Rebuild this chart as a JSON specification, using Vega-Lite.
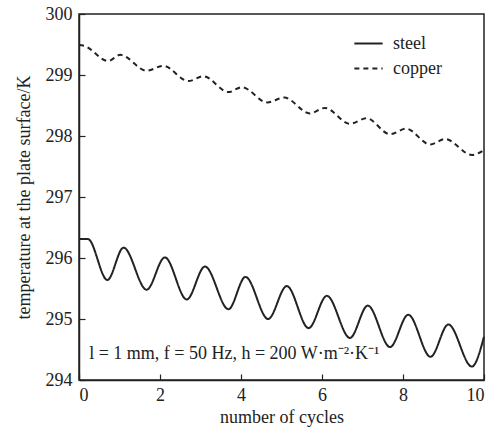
{
  "$schema": "https://vega.github.io/schema/vega-lite/v6.json",
  "width": 405,
  "height": 366,
  "autosize": {"type": "none"},
  "padding": {"left": 79, "top": 14, "right": 17, "bottom": 52},
  "background": "white",
  "config": {
    "font": "Liberation Serif",
    "view": {"stroke": "#222", "strokeWidth": 1.5},
    "axis": {
      "domainColor": "#222", "domainWidth": 1.5,
      "tickColor": "#222", "tickWidth": 1.2, "tickSize": -6,
      "grid": false
    }
  },
  "datasets": {
    "curves": [
      {"series": "steel", "x": 0, "y": 296.31},
      {"series": "steel", "x": 0.22, "y": 296.31},
      {"series": "steel", "x": 0.70, "y": 295.64},
      {"series": "steel", "x": 1.10, "y": 296.17},
      {"series": "steel", "x": 1.67, "y": 295.48},
      {"series": "steel", "x": 2.12, "y": 296.01},
      {"series": "steel", "x": 2.66, "y": 295.32},
      {"series": "steel", "x": 3.11, "y": 295.86},
      {"series": "steel", "x": 3.69, "y": 295.16},
      {"series": "steel", "x": 4.11, "y": 295.69},
      {"series": "steel", "x": 4.67, "y": 295.00},
      {"series": "steel", "x": 5.13, "y": 295.54},
      {"series": "steel", "x": 5.67, "y": 294.85},
      {"series": "steel", "x": 6.12, "y": 295.38},
      {"series": "steel", "x": 6.69, "y": 294.69},
      {"series": "steel", "x": 7.13, "y": 295.22},
      {"series": "steel", "x": 7.68, "y": 294.54},
      {"series": "steel", "x": 8.13, "y": 295.07},
      {"series": "steel", "x": 8.68, "y": 294.38},
      {"series": "steel", "x": 9.12, "y": 294.91},
      {"series": "steel", "x": 9.70, "y": 294.22},
      {"series": "steel", "x": 10, "y": 294.71},
      {"series": "copper", "x": 0, "y": 299.49},
      {"series": "copper", "x": 0.12, "y": 299.48},
      {"series": "copper", "x": 0.72, "y": 299.23},
      {"series": "copper", "x": 1.02, "y": 299.33},
      {"series": "copper", "x": 1.67, "y": 299.07},
      {"series": "copper", "x": 2.08, "y": 299.15},
      {"series": "copper", "x": 2.70, "y": 298.90},
      {"series": "copper", "x": 3.07, "y": 298.98},
      {"series": "copper", "x": 3.69, "y": 298.72},
      {"series": "copper", "x": 4.02, "y": 298.80},
      {"series": "copper", "x": 4.65, "y": 298.55},
      {"series": "copper", "x": 5.07, "y": 298.63},
      {"series": "copper", "x": 5.70, "y": 298.37},
      {"series": "copper", "x": 6.07, "y": 298.46},
      {"series": "copper", "x": 6.69, "y": 298.20},
      {"series": "copper", "x": 7.10, "y": 298.29},
      {"series": "copper", "x": 7.68, "y": 298.03},
      {"series": "copper", "x": 8.08, "y": 298.12},
      {"series": "copper", "x": 8.67, "y": 297.86},
      {"series": "copper", "x": 9.04, "y": 297.95},
      {"series": "copper", "x": 9.70, "y": 297.69},
      {"series": "copper", "x": 10, "y": 297.77}
    ],
    "note": [
      {"x": 0.25, "y": 294.43, "label": "l = 1 mm, f = 50 Hz, h = 200 W·m⁻²·K⁻¹"}
    ]
  },
  "layer": [
    {
      "data": {"name": "curves"},
      "mark": {"type": "line", "interpolate": "monotone", "strokeWidth": 2, "color": "#222"},
      "encoding": {
        "x": {"field": "x", "type": "quantitative",
              "scale": {"domain": [0, 10], "nice": false},
              "axis": {"values": [0, 2, 4, 6, 8, 10], "format": "d", "title": "number of cycles",
                       "titlePadding": 4, "labelPadding": 12,
                       "labelFont": "Liberation Serif", "labelFontSize": 18, "labelColor": "#222",
                       "titleFont": "Liberation Serif", "titleFontSize": 18, "titleFontWeight": "normal", "titleColor": "#222"}},
        "y": {"field": "y", "type": "quantitative",
              "scale": {"domain": [294, 300], "nice": false, "zero": false},
              "axis": {"values": [294, 295, 296, 297, 298, 299, 300], "format": "d", "title": "temperature at the plate surface/K",
                       "titlePadding": 12, "labelPadding": 13,
                       "labelFont": "Liberation Serif", "labelFontSize": 18, "labelColor": "#222",
                       "titleFont": "Liberation Serif", "titleFontSize": 18, "titleFontWeight": "normal", "titleColor": "#222"}},
        "strokeDash": {"field": "series", "type": "nominal",
              "scale": {"domain": ["steel", "copper"], "range": [[1, 0], [5, 4]]},
              "legend": {"title": null, "orient": "none", "legendX": 274, "legendY": 14,
                         "symbolType": "stroke", "symbolSize": 800, "symbolStrokeWidth": 2,
                         "symbolStrokeColor": "#222", "labelOffset": 9, "rowPadding": -12,
                         "labelFont": "Liberation Serif", "labelFontSize": 18, "labelColor": "#222"}},
        "detail": {"field": "series"}
      }
    },
    {
      "data": {"name": "note"},
      "mark": {"type": "text", "align": "left", "baseline": "middle", "fontSize": 18, "font": "Liberation Serif", "color": "#222"},
      "encoding": {
        "x": {"field": "x", "type": "quantitative"},
        "y": {"field": "y", "type": "quantitative"},
        "text": {"field": "label"}
      }
    }
  ]
}
